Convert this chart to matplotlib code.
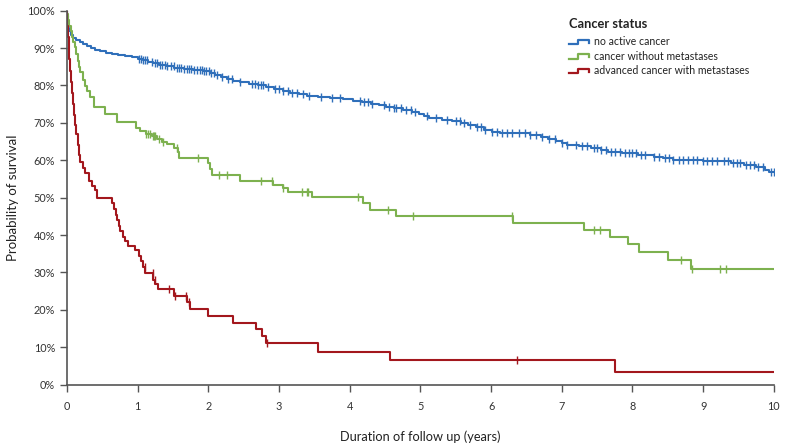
import numpy as np
import matplotlib
matplotlib.use("Agg")
from matplotlib import pyplot as plt
from matplotlib.lines import Line2D
from matplotlib.legend_handler import HandlerBase
from matplotlib.ticker import PercentFormatter

plt.rcParams['font.family'] = ['Lato', 'DejaVu Sans']

# Kaplan-Meier steps: event time (years) -> survival (%) after it
blue_t = [0.005, 0.01, 0.02, 0.03, 0.05, 0.08, 0.13, 0.18, 0.23, 0.28, 0.34, 0.40,
          0.47, 0.55, 0.63, 0.72, 0.82, 0.92, 1.00, 1.08, 1.15, 1.22, 1.30, 1.40,
          1.52, 1.65, 1.78, 1.92, 2.02, 2.10, 2.18, 2.26, 2.35, 2.45, 2.58, 2.70,
          2.82, 2.93, 3.05, 3.16, 3.28, 3.40, 3.55, 3.72, 3.90, 4.05, 4.18, 4.30,
          4.42, 4.52, 4.62, 4.75, 4.88, 4.98, 5.05, 5.12, 5.30, 5.45, 5.58, 5.68,
          5.78, 5.90, 6.02, 6.12, 6.55, 6.70, 6.80, 6.92, 7.00, 7.07, 7.25, 7.42,
          7.55, 7.65, 7.85, 8.08, 8.30, 8.43, 8.57, 9.00, 9.40, 9.58, 9.75, 9.88, 9.93]
blue_s = [98.5, 97.0, 95.5, 94.5, 93.5, 92.6, 92.1, 91.6, 91.1, 90.6, 90.1, 89.6,
          89.2, 88.8, 88.5, 88.2, 87.9, 87.6, 87.2, 86.8, 86.4, 86.0, 85.6, 85.2,
          84.8, 84.5, 84.1, 83.8, 83.3, 82.8, 82.3, 81.8, 81.2, 80.8, 80.4, 80.0,
          79.6, 79.1, 78.6, 78.0, 77.6, 77.1, 76.8, 76.6, 76.3, 75.9, 75.5, 75.1,
          74.7, 74.3, 73.9, 73.5, 73.0, 72.5, 71.8, 71.2, 70.9, 70.5, 70.0, 69.4,
          68.8, 68.2, 67.6, 67.2, 66.8, 66.3, 65.8, 65.2, 64.7, 64.1, 63.7, 63.2,
          62.7, 62.3, 61.9, 61.4, 61.0, 60.5, 60.0, 59.8, 59.4, 58.8, 58.3, 57.5, 56.8]
blue_cens = [1.02, 1.05, 1.08, 1.10, 1.13, 1.20, 1.25, 1.28, 1.31, 1.34, 1.38, 1.42,
             1.47, 1.51, 1.55, 1.58, 1.62, 1.66, 1.70, 1.73, 1.76, 1.80, 1.84, 1.88,
             1.91, 1.94, 1.97, 2.01, 2.04, 2.08, 2.12, 2.20, 2.28, 2.33, 2.45, 2.62,
             2.66, 2.70, 2.74, 2.78, 2.84, 2.95, 3.00, 3.06, 3.12, 3.18, 3.26, 3.34,
             3.42, 3.60, 3.75, 3.86, 4.14, 4.20, 4.26, 4.32, 4.48, 4.56, 4.62, 4.66,
             4.72, 4.80, 4.86, 4.92, 5.10, 5.22, 5.38, 5.50, 5.56, 5.62, 5.70, 5.80,
             5.86, 5.92, 6.02, 6.08, 6.16, 6.22, 6.30, 6.40, 6.48, 6.55, 6.64, 6.72,
             6.82, 6.90, 7.00, 7.08, 7.20, 7.28, 7.36, 7.45, 7.50, 7.55, 7.62, 7.70,
             7.76, 7.82, 7.90, 7.95, 8.00, 8.05, 8.12, 8.18, 8.30, 8.38, 8.46, 8.52,
             8.58, 8.66, 8.72, 8.78, 8.86, 8.92, 9.00, 9.05, 9.12, 9.20, 9.30, 9.35,
             9.42, 9.48, 9.52, 9.60, 9.66, 9.72, 9.78, 9.84, 9.96, 10.0]

green_t = [0.005, 0.015, 0.03, 0.05, 0.07, 0.09, 0.11, 0.13, 0.15, 0.17, 0.19, 0.22,
           0.25, 0.28, 0.33, 0.38, 0.54, 0.71, 0.97, 1.04, 1.12, 1.20, 1.27, 1.35,
           1.41, 1.52, 1.57, 1.59, 1.99, 2.03, 2.05, 2.45, 2.91, 3.05, 3.13, 3.46,
           4.19, 4.28, 4.66, 6.31, 7.31, 7.68, 7.93, 8.09, 8.50, 8.83]
green_s = [99.0, 97.5, 96.0, 94.5, 93.0, 91.5, 90.3, 88.5, 86.5, 85.0, 83.5, 81.5,
           79.8, 78.5, 77.0, 74.3, 72.5, 70.3, 68.6, 67.7, 67.0, 66.4, 65.7, 65.0,
           64.4, 63.2, 62.3, 60.6, 59.2, 57.6, 56.0, 54.4, 53.3, 52.5, 51.6, 50.2,
           48.6, 46.8, 45.1, 43.3, 41.4, 39.5, 37.5, 35.5, 33.4, 31.0]
green_cens = [1.12, 1.15, 1.18, 1.21, 1.23, 1.25, 1.30, 1.36, 1.55, 1.85, 2.15, 2.26,
              2.74, 2.90, 3.06, 3.32, 3.39, 3.41, 4.12, 4.54, 4.90, 6.30, 7.46, 7.54,
              8.68, 8.84, 9.24, 9.32]

red_t = [0.005, 0.015, 0.025, 0.035, 0.045, 0.055, 0.065, 0.08, 0.095, 0.11, 0.13,
         0.15, 0.17, 0.19, 0.22, 0.26, 0.31, 0.36, 0.39, 0.42, 0.63, 0.66, 0.69,
         0.71, 0.73, 0.75, 0.79, 0.82, 0.86, 0.96, 1.02, 1.05, 1.08, 1.11, 1.22,
         1.25, 1.29, 1.52, 1.70, 1.74, 1.99, 2.35, 2.68, 2.76, 2.82, 3.55, 4.57, 7.75]
red_s = [96.0, 93.0, 90.0, 87.0, 84.0, 81.0, 78.0, 75.0, 72.0, 69.5, 67.0,
         64.0, 61.5, 59.5, 58.0, 56.5, 54.5, 53.0, 52.0, 50.0, 48.5, 47.0, 45.5,
         44.0, 42.5, 41.0, 39.5, 38.5, 37.2, 36.0, 34.5, 33.0, 31.5, 29.8, 28.0,
         27.0, 25.5, 23.7, 22.0, 20.3, 18.4, 16.6, 14.9, 13.1, 11.1, 8.8, 6.6, 3.3]
red_cens = [1.10, 1.21, 1.24, 1.45, 1.53, 1.69, 1.72, 2.83, 6.37]

labels = ['no active cancer', 'cancer without metastases',
          'advanced cancer with metastases']
colors = ['#2f6fba', '#7db14f', '#a3171d']
tmax = 10


def km_curve(ax, times, surv, cens, color):
    t = np.array([0.0] + times + [tmax])
    s = np.array([100.0] + surv + [surv[-1]])
    ax.step(t, s, where='post', color=color, lw=1.5, zorder=3)
    c = np.array(cens)
    idx = np.searchsorted(t, c, side='right') - 1
    ax.plot(c, s[idx], ls='none', marker='|', ms=6, mew=1.0, color=color, zorder=3)


class StepHandler(HandlerBase):
    def create_artists(self, legend, orig_handle, xdescent, ydescent, width,
                       height, fontsize, trans):
        x0 = -xdescent
        x1 = x0 + width
        xm = x0 + width * 0.45
        y0 = -ydescent + height * 0.15
        y1 = -ydescent + height * 0.8
        ln = Line2D([x0, xm, xm, x1, x1], [y0, y0, y1, y1, y0 + height * 0.2],
                    color=orig_handle.get_color(), lw=1.6)
        ln.set_transform(trans)
        return [ln]


fig = plt.figure(figsize=(7.88, 4.45), dpi=100)
ax = fig.add_axes([0.085, 0.1355, 0.897, 0.8405])

km_curve(ax, blue_t, blue_s, blue_cens, colors[0])
km_curve(ax, green_t, green_s, green_cens, colors[1])
km_curve(ax, red_t, red_s, red_cens, colors[2])

ax.set_xlim(0, 10)
ax.set_ylim(0, 100)
ax.set_xticks(range(0, 11))
ax.set_yticks(range(0, 101, 10))
ax.yaxis.set_major_formatter(PercentFormatter(decimals=0))
for side in ['top', 'right']:
    ax.spines[side].set_visible(False)
for side in ['left', 'bottom']:
    ax.spines[side].set_color('#555555')
    ax.spines[side].set_linewidth(1.2)
    ax.spines[side].set_zorder(4)
ax.tick_params(axis='both', length=5, width=1.0, color='#555555',
               labelsize=7.8, labelcolor='#333333')
ax.tick_params(axis='x', pad=7)
ax.set_xlabel('Duration of follow up (years)', fontsize=9.2, color='#222222', labelpad=13)
ax.set_ylabel('Probability of survival', fontsize=9.5, color='#222222', labelpad=6)

fig.text(0.722, 0.946, 'Cancer status', fontsize=9.3, fontweight='bold',
         color='#222222', ha='left', va='center')
handles = [Line2D([], [], color=c) for c in colors]
leg = fig.legend(handles, labels, loc='upper left', bbox_to_anchor=(0.722, 0.918),
                 frameon=False, fontsize=7.6, borderpad=0, borderaxespad=0,
                 handler_map={Line2D: StepHandler()}, handlelength=1.9,
                 handletextpad=0.45, labelspacing=0.33)
for txt in leg.get_texts():
    txt.set_color('#222222')

fig.savefig('out.png', dpi=100)
